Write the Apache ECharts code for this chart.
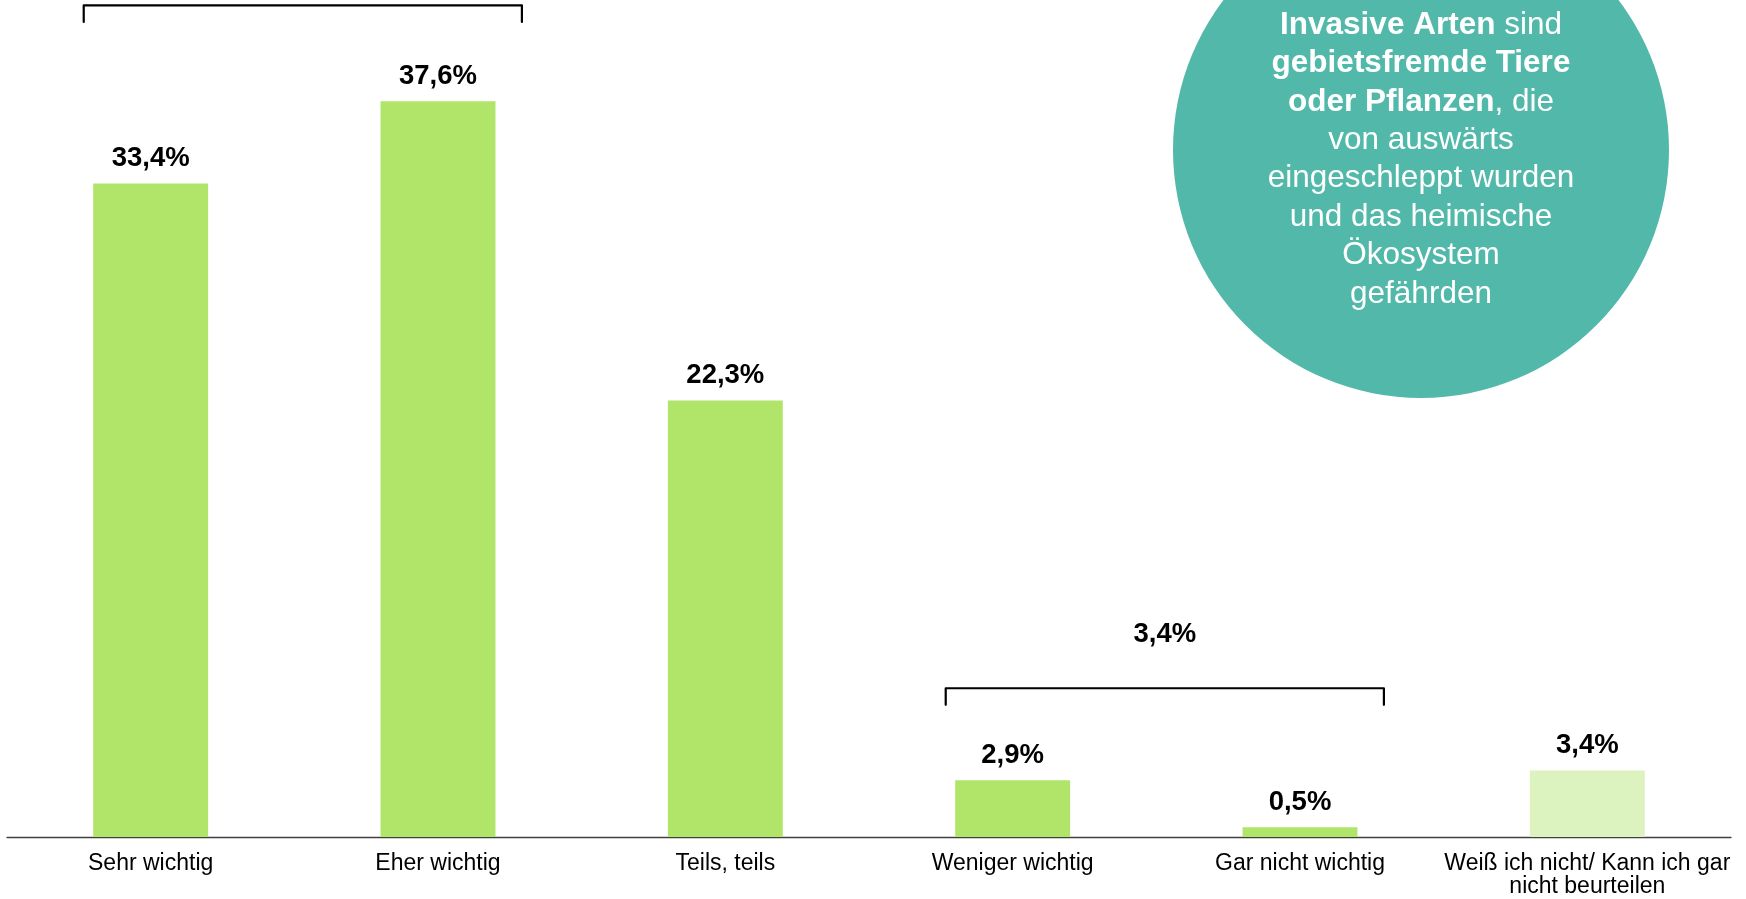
<!DOCTYPE html>
<html><head><meta charset="utf-8">
<script src="https://cdn.jsdelivr.net/npm/echarts@6/dist/echarts.min.js"></script>
<style>html,body{margin:0;padding:0;background:#fff}#c{width:1746px;height:899px}</style>
</head><body><div id="c"></div>
<script>
// ---- data ----
const categories = ['Sehr wichtig', 'Eher wichtig', 'Teils, teils', 'Weniger wichtig', 'Gar nicht wichtig', 'Weiß ich nicht/ Kann ich gar\nnicht beurteilen'];
const values = [33.4, 37.6, 22.3, 2.9, 0.5, 3.4];
const valueLabels = ['33,4%', '37,6%', '22,3%', '2,9%', '0,5%', '3,4%'];
const bracketGroups = [[0, 1], [3, 4]];
const bracketLabels = ['', '3,4%'];
const bracketLevels = [42.5, 7.6];
const noteText = '{b|Invasive Arten} sind\n{b|gebietsfremde Tiere}\n{b|oder Pflanzen}, die\nvon auswärts\neingeschleppt wurden\nund das heimische\nÖkosystem\ngefährden';

// ---- style ----
const FONT = '"Liberation Sans", Arial, sans-serif';
const GREEN = '#B1E56A';
const LIGHT = '#DCF3C0';
const TEAL = '#52B9AA';

const chart = echarts.init(document.getElementById('c'), null, {renderer: 'canvas'});
chart.setOption({
  animation: false,
  backgroundColor: '#fff',
  grid: {left: 7, right: 15, top: 5.3, bottom: 62, containLabel: false},
  xAxis: {
    type: 'category', data: categories,
    axisLine: {show: true, lineStyle: {color: '#404040', width: 1.3}},
    axisTick: {show: false},
    axisLabel: {interval: 0, color: '#000', fontFamily: FONT, fontSize: 23, lineHeight: 23, margin: 15, align: 'center'}
  },
  yAxis: {type: 'value', min: 0, max: 42.5, show: false, splitLine: {show: false}},
  series: [{
    type: 'bar', data: values, barWidth: '40%',
    itemStyle: {color: p => p.dataIndex === values.length - 1 ? LIGHT : GREEN},
    label: {show: true, position: 'top', distance: 11, color: '#000', fontFamily: FONT, fontWeight: 'bold', fontSize: 27.5,
      formatter: p => valueLabels[p.dataIndex]}
  }]
});

function px(i, v) { return chart.convertToPixel({xAxisIndex: 0, yAxisIndex: 0}, [i, v]); }
const band = px(1, 0)[0] - px(0, 0)[0];
const graphics = [];
// circle note
graphics.push({type: 'circle', z: 1, shape: {cx: 1421, cy: 150, r: 248}, style: {fill: TEAL}});
graphics.push({type: 'text', z: 2, x: 1421, y: 159.5,
  style: {text: noteText, align: 'center', verticalAlign: 'middle', fill: '#fff', fontFamily: FONT, fontSize: 31.5, lineHeight: 38.4,
    rich: {b: {fontWeight: 'bold', fontFamily: FONT, fontSize: 31.5, lineHeight: 38.4, fill: '#fff'}}}});
// brackets
bracketGroups.forEach((g, k) => {
  const x1 = px(g[0], 0)[0] - band * 0.233;
  const x2 = px(g[1], 0)[0] + band * 0.292;
  const y = px(0, bracketLevels[k])[1];
  const yb = y + 16.6;
  graphics.push({type: 'polyline', z: 3, shape: {points: [[x1, yb], [x1, y], [x2, y], [x2, yb]]},
    style: {stroke: '#000', lineWidth: 2.2, fill: null, lineJoin: 'round', lineCap: 'round'}});
  if (bracketLabels[k]) {
    graphics.push({type: 'text', z: 3, x: (x1 + x2) / 2, y: y - 54,
      style: {text: bracketLabels[k], align: 'center', verticalAlign: 'middle', fill: '#000', fontFamily: FONT, fontWeight: 'bold', fontSize: 27.5}});
  }
});
chart.setOption({graphic: graphics});
</script>
</body></html>
